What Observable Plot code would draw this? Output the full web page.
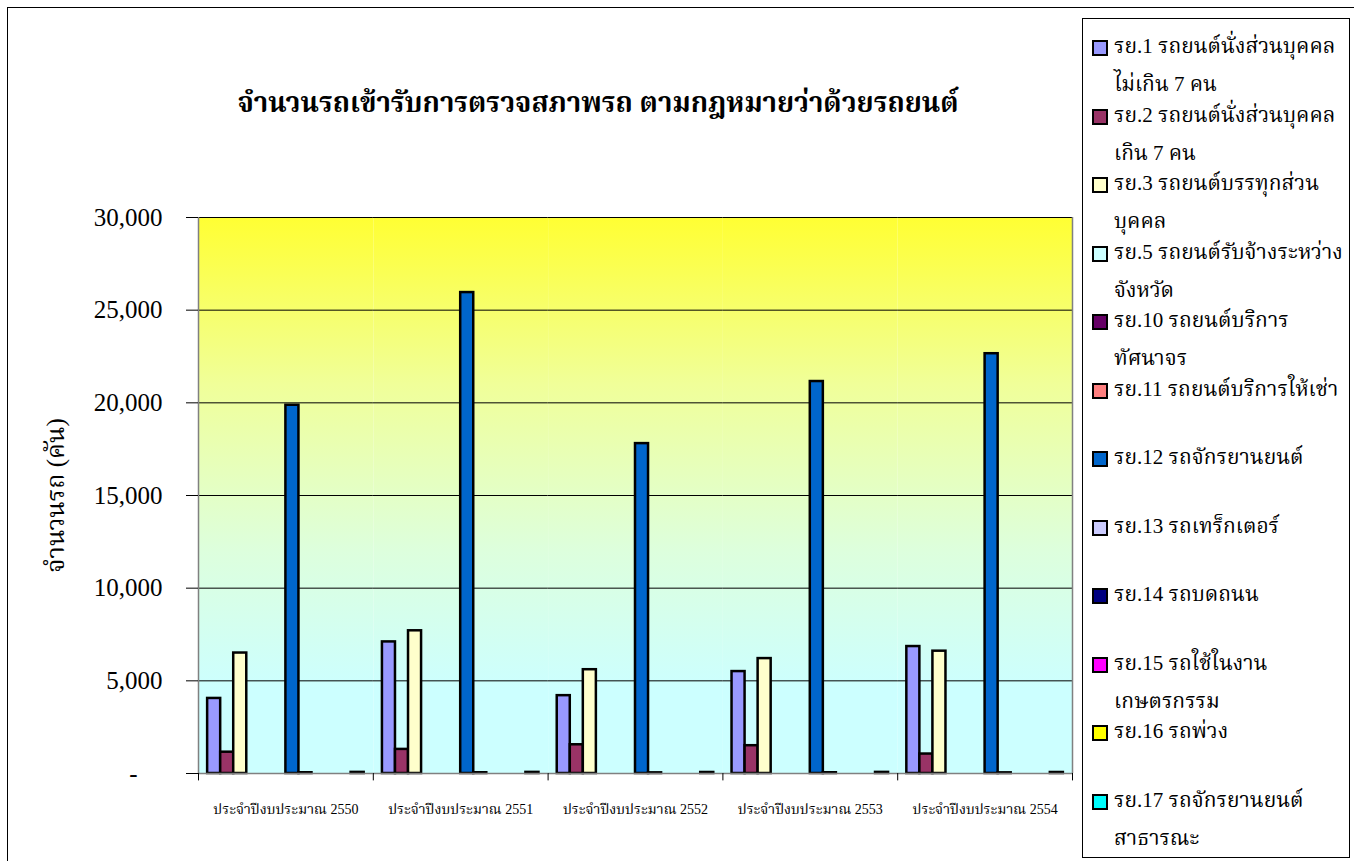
<!DOCTYPE html>
<html>
<head>
<meta charset="utf-8">
<script src="https://cdn.jsdelivr.net/npm/d3@7"></script>
<script src="https://cdn.jsdelivr.net/npm/@observablehq/plot@0.6"></script>
<style>
  html, body { margin: 0; padding: 0; background: white; }
  #root { position: relative; width: 1354px; height: 861px; overflow: hidden; background: white;
          font-family: "Liberation Serif", "Noto Serif Thai", "FreeSerif", "Kinnari", "Norasi", "Times New Roman", serif; color: black; }
  #frame { position: absolute; left: 7px; top: 7px; width: 1400px; height: 900px; border: 1.5px solid black; box-sizing: border-box; }
  #title { position: absolute; left: 0; width: 1196px; top: 83px; text-align: center; font-weight: bold; font-size: 27.5px; white-space: nowrap; }
  #chart { position: absolute; left: 0; top: 0; }
  #legend { position: absolute; left: 1082px; top: 18px; width: 268px; height: 840px; border: 1px solid black; box-sizing: border-box; background: white; }
  .lg-sw { position: absolute; width: 12px; height: 12px; border: 2px solid black; }
  .lg-tx { position: absolute; font-size: 21px; white-space: nowrap; line-height: 1; }
</style>
</head>
<body>
<div id="root">
  <div id="frame"></div>
  <div id="chart"></div>
  <div id="title"></div>
  <div id="legend"></div>
</div>
<script>
const titleText = "จำนวนรถเข้ารับการตรวจสภาพรถ ตามกฎหมายว่าด้วยรถยนต์";
const yLabel = "จำนวนรถ (คัน)";
const categories = [
  "ประจำปีงบประมาณ 2550",
  "ประจำปีงบประมาณ 2551",
  "ประจำปีงบประมาณ 2552",
  "ประจำปีงบประมาณ 2553",
  "ประจำปีงบประมาณ 2554"
];
const seriesCodes = ["รย.1","รย.2","รย.3","รย.5","รย.10","รย.11","รย.12","รย.13","รย.14","รย.15","รย.16","รย.17"];
const seriesLabels = [
  ["รย.1 รถยนต์นั่งส่วนบุคคล", "ไม่เกิน 7 คน"],
  ["รย.2 รถยนต์นั่งส่วนบุคคล", "เกิน 7 คน"],
  ["รย.3 รถยนต์บรรทุกส่วน", "บุคคล"],
  ["รย.5 รถยนต์รับจ้างระหว่าง", "จังหวัด"],
  ["รย.10 รถยนต์บริการ", "ทัศนาจร"],
  ["รย.11 รถยนต์บริการให้เช่า"],
  ["รย.12 รถจักรยานยนต์"],
  ["รย.13 รถเทร็กเตอร์"],
  ["รย.14 รถบดถนน"],
  ["รย.15 รถใช้ในงาน", "เกษตรกรรม"],
  ["รย.16 รถพ่วง"],
  ["รย.17 รถจักรยานยนต์", "สาธารณะ"]
];
const seriesColors = ["#9999FF","#993366","#FFFFCC","#CCFFFF","#660066","#FF8080","#0066CC","#CCCCFF","#000080","#FF00FF","#FFFF00","#00FFFF"];

// values per series, one per fiscal year (2550..2554)
const ry1  = [4050, 7100, 4200, 5500, 6850];
const ry2  = [1150, 1300, 1550, 1500, 1050];
const ry3  = [6500, 7700, 5600, 6200, 6600];
const ry5  = [0, 0, 0, 0, 0];
const ry10 = [0, 0, 0, 0, 0];
const ry11 = [0, 0, 0, 0, 0];
const ry12 = [19870, 25950, 17800, 21150, 22650];
const ry13 = [40, 40, 35, 40, 35];
const ry14 = [0, 0, 0, 0, 0];
const ry15 = [0, 0, 0, 0, 0];
const ry16 = [0, 0, 0, 0, 0];
const ry17 = [60, 60, 55, 60, 55];
const seriesValues = [ry1, ry2, ry3, ry5, ry10, ry11, ry12, ry13, ry14, ry15, ry16, ry17];
const yTicks = [0, 5000, 10000, 15000, 20000, 25000, 30000];

const table = categories.flatMap((c, ci) =>
  seriesCodes.map((s, si) => ({category: c, series: s, value: seriesValues[si][ci]})));

const firstCode = seriesCodes[0], lastCode = seriesCodes[seriesCodes.length - 1];
const leftEdges = categories.map(c => ({category: c, series: firstCode}));
const rightEdges = categories.map(c => ({category: c, series: lastCode}));

const W = 1080, H = 861, ML = 198, MR = 8, MT = 217, MB = 88;
const facetW = (W - ML - MR) / categories.length;
const padOuter = 0.7;
const step = facetW / (seriesCodes.length + 2 * padOuter);
const edgeOff = step * (padOuter + 0.5);
const FONT = '"Liberation Serif", "Noto Serif Thai", "FreeSerif", "Kinnari", "Norasi", "Times New Roman", serif';

const chart = Plot.plot({
  width: W, height: H,
  marginTop: MT, marginBottom: MB, marginLeft: ML, marginRight: MR,
  style: {background: "transparent", fontFamily: FONT, color: "black", overflow: "visible"},
  fx: {domain: categories, padding: 0, round: false, label: null},
  x: {domain: seriesCodes, paddingInner: 0, paddingOuter: padOuter, round: false, axis: null},
  y: {domain: [0, 30000], label: null},
  color: {domain: seriesCodes, range: seriesColors},
  marks: [
    Plot.frame({fill: "url(#bgGrad)", stroke: null}),
    Plot.ruleY(yTicks.slice(1), {stroke: "black", strokeWidth: 1}),
    Plot.barY(table, {fx: "category", x: "series", y: "value", fill: "series", stroke: "black", strokeWidth: 2.5}),
    Plot.ruleY([0], {stroke: "#808080", strokeWidth: 1.5}),
    // plot area side borders
    Plot.ruleX(leftEdges.slice(0, 1), {fx: "category", x: "series", y1: 0, y2: 30000, dx: -edgeOff, stroke: "#808080", strokeWidth: 1.5}),
    Plot.ruleX(rightEdges.slice(-1), {fx: "category", x: "series", y1: 0, y2: 30000, dx: edgeOff, stroke: "#808080", strokeWidth: 1.5}),
    // category separator ticks below the axis
    Plot.ruleX(leftEdges, {fx: "category", x: "series", y1: 0, y2: 400, dx: -edgeOff, dy: 7.4, stroke: "black"}),
    Plot.ruleX(rightEdges.slice(-1), {fx: "category", x: "series", y1: 0, y2: 400, dx: edgeOff, dy: 7.4, stroke: "black"}),
    Plot.axisY(yTicks, {
      tickSize: 12, tickPadding: 24, fontSize: 25,
      tickFormat: d => d === 0 ? "-\u00a0\u00a0\u00a0\u00a0" : d3.format(",")(d),
      label: yLabel, labelAnchor: "center", labelOffset: 152
    }),
    Plot.axisFx({anchor: "bottom", tickSize: 0, tickPadding: 31, fontSize: 14, label: null})
  ]
});

const defs = document.createElementNS("http://www.w3.org/2000/svg", "defs");
defs.innerHTML = `<linearGradient id="bgGrad" x1="0" y1="0" x2="0" y2="1">
  <stop offset="0" stop-color="#FFFF33"/>
  <stop offset="0.3" stop-color="#F0FF99"/>
  <stop offset="0.6" stop-color="#DDFFDD"/>
  <stop offset="0.85" stop-color="#CCFFFF"/>
  <stop offset="1" stop-color="#CCFFFF"/>
</linearGradient>`;
chart.insertBefore(defs, chart.firstChild);
// y-axis label: plain text (no arrow), larger
chart.querySelectorAll("text").forEach(t => {
  if (t.textContent.includes(yLabel)) { t.textContent = yLabel; t.setAttribute("font-size", 25); }
});
document.getElementById("chart").appendChild(chart);

document.getElementById("title").textContent = titleText;

const legend = document.getElementById("legend");
seriesLabels.forEach((lines, i) => {
  const cy = 29 + i * 68.5; // center of first line, relative to legend box
  const sw = document.createElement("div");
  sw.className = "lg-sw";
  sw.style.left = "9px";
  sw.style.top = (cy - 8) + "px";
  sw.style.background = seriesColors[i];
  legend.appendChild(sw);
  lines.forEach((ln, j) => {
    const tx = document.createElement("div");
    tx.className = "lg-tx";
    tx.style.left = "31px";
    tx.style.top = (cy - 12 + j * 38) + "px";
    tx.textContent = ln;
    legend.appendChild(tx);
  });
});
</script>
</body>
</html>
